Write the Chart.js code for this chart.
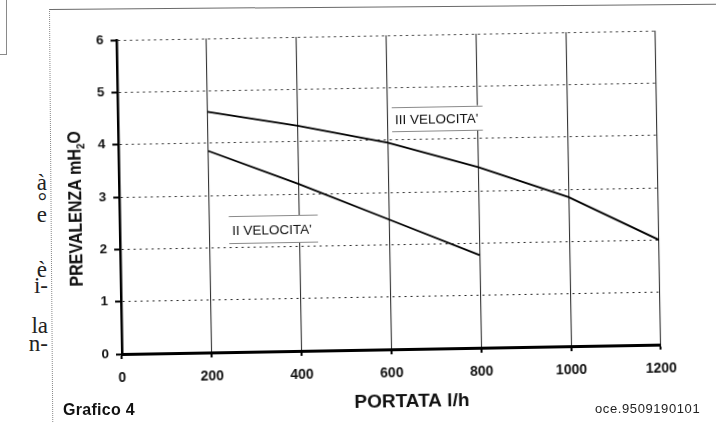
<!DOCTYPE html>
<html>
<head>
<meta charset="utf-8">
<script src="https://cdn.jsdelivr.net/npm/chart.js@4.4.1/dist/chart.umd.min.js"></script>
<style>
html,body{margin:0;padding:0;background:#fff;}
#wrap{position:relative;width:716px;height:422px;overflow:hidden;background:#fff;}
#c{position:absolute;left:0;top:0;width:716px;height:422px;transform-origin:122px 354px;transform:rotate(-1deg);}
.frag{position:absolute;font-family:"Liberation Serif","Times New Roman",serif;font-size:23px;line-height:1;color:#222;white-space:nowrap;}
#corner{position:absolute;left:-1px;top:-1px;width:6px;height:54px;border:1px solid #8a8a8a;}
#frame{position:absolute;left:49px;top:9px;width:720px;height:470px;border-top:1.5px solid #6a6a6a;border-left:1px dotted #8a8a8a;transform-origin:0 0;transform:rotate(-0.45deg);}
#grafico{position:absolute;left:63px;top:402px;font-family:"Liberation Sans",Arial,sans-serif;font-weight:bold;font-size:16px;line-height:1;color:#111;letter-spacing:0.3px;white-space:nowrap;}
#code{position:absolute;left:595px;top:402px;font-family:"Liberation Sans",Arial,sans-serif;font-size:13px;line-height:1;color:#222;letter-spacing:0.6px;white-space:nowrap;}
</style>
</head>
<body>
<div id="wrap">
  <div id="corner"></div>
  <div id="frame"></div>
  <div class="frag" style="right:669px;top:171px;">à</div>
  <div class="frag" style="right:669px;top:190px;">°</div>
  <div class="frag" style="right:669px;top:203px;">e</div>
  <div class="frag" style="right:669px;top:258px;">è</div>
  <div class="frag" style="right:668px;top:274px;">i-</div>
  <div class="frag" style="right:668px;top:314px;">la</div>
  <div class="frag" style="right:668px;top:332px;">n-</div>
  <canvas id="c" width="716" height="422"></canvas>
  <div id="grafico">Grafico 4</div>
  <div id="code">oce.9509190101</div>
</div>
<script>
// ---- data ----
const flowTicks = [0, 200, 400, 600, 800, 1000, 1200];   // PORTATA l/h
const headTicks = [0, 1, 2, 3, 4, 5, 6];                  // PREVALENZA mH2O
const portataIII = [200, 400, 600, 800, 1000, 1200];
const velocitaIII = [4.60, 4.30, 3.95, 3.45, 2.85, 2.00];
const portataII = [200, 400, 600, 800];
const velocitaII = [3.85, 3.19, 2.48, 1.77];
const seriesNames = ["III VELOCITA'", "II VELOCITA'"];
const xTitle = "PORTATA l/h";
const yTitleParts = ["PREVALENZA mH", "2", "O"];

const SANS = '"Liberation Sans", Arial, sans-serif';

const annot = {
  id: 'annot',
  afterDatasetsDraw(chart) {
    const {ctx, scales: {x, y}} = chart;
    const boxes = [
      {text: seriesNames[0], x0: 610, x1: 812, y0: 4.155, y1: 4.633},
      {text: seriesNames[1], x0: 243, x1: 441, y0: 2.07, y1: 2.59}
    ];
    ctx.save();
    boxes.forEach(b => {
      const l = x.getPixelForValue(b.x0), r = x.getPixelForValue(b.x1);
      const t = y.getPixelForValue(b.y1), bt = y.getPixelForValue(b.y0);
      ctx.fillStyle = '#fff';
      ctx.fillRect(l, t, r - l, bt - t);
      ctx.strokeStyle = '#8a8a8a';
      ctx.lineWidth = 1;
      ctx.beginPath();
      ctx.moveTo(l, Math.round(t) + 0.5); ctx.lineTo(r, Math.round(t) + 0.5);
      ctx.moveTo(l, Math.round(bt) - 0.5); ctx.lineTo(r, Math.round(bt) - 0.5);
      ctx.stroke();
      ctx.fillStyle = '#111';
      ctx.font = '13.5px ' + SANS;
      ctx.textAlign = 'left';
      ctx.textBaseline = 'alphabetic';
      ctx.fillText(b.text, l + 3, (t + bt) / 2 + 5);
    });
    ctx.restore();

    // x axis title
    ctx.save();
    ctx.fillStyle = '#111';
    ctx.font = 'bold 19px ' + SANS;
    ctx.textAlign = 'center';
    ctx.textBaseline = 'alphabetic';
    ctx.fillText(xTitle, 411, 412);
    ctx.restore();

    // y axis title with subscript
    ctx.save();
    ctx.translate(77.5, 208);
    ctx.rotate(-Math.PI / 2);
    ctx.scale(1, 1.12);
    ctx.fillStyle = '#111';
    ctx.textAlign = 'left';
    ctx.textBaseline = 'alphabetic';
    const big = 'bold 16px ' + SANS, small = 'bold 10px ' + SANS;
    ctx.font = big; const w0 = ctx.measureText(yTitleParts[0]).width;
    ctx.font = small; const w1 = ctx.measureText(yTitleParts[1]).width;
    ctx.font = big; const w2 = ctx.measureText(yTitleParts[2]).width;
    let sx = -(w0 + w1 + w2) / 2;
    ctx.font = big; ctx.fillText(yTitleParts[0], sx, 5.7); sx += w0;
    ctx.font = small; ctx.fillText(yTitleParts[1], sx, 9); sx += w1;
    ctx.font = big; ctx.fillText(yTitleParts[2], sx, 5.7);
    ctx.restore();
  }
};

new Chart(document.getElementById('c').getContext('2d'), {
  type: 'line',
  data: {
    datasets: [
      {
        label: seriesNames[0],
        data: portataIII.map((v, i) => ({x: v, y: velocitaIII[i]})),
        borderColor: '#000', borderWidth: 1.8, pointRadius: 0, tension: 0, fill: false
      },
      {
        label: seriesNames[1],
        data: portataII.map((v, i) => ({x: v, y: velocitaII[i]})),
        borderColor: '#000', borderWidth: 1.8, pointRadius: 0, tension: 0, fill: false
      }
    ]
  },
  options: {
    responsive: false,
    animation: false,
    devicePixelRatio: 1,
    layout: {padding: {left: 0, top: 40, right: 55, bottom: 0}},
    plugins: {legend: {display: false}, tooltip: {enabled: false}},
    scales: {
      x: {
        type: 'linear', min: flowTicks[0], max: flowTicks[flowTicks.length - 1],
        afterBuildTicks: s => { s.ticks = flowTicks.map(v => ({value: v})); },
        afterFit: s => { s.height = 68; },
        grid: {color: '#333', lineWidth: 1.1, tickLength: 5, tickColor: '#000', tickWidth: 2},
        border: {display: true, color: '#000', width: 3},
        ticks: {font: {family: SANS, size: 14, weight: 'bold'}, color: '#111', padding: 11, maxRotation: 0,
                callback: v => String(v)}
      },
      y: {
        type: 'linear', min: headTicks[0], max: headTicks[headTicks.length - 1],
        afterBuildTicks: s => { s.ticks = headTicks.map(v => ({value: v})); },
        afterFit: s => { s.width = 122; },
        grid: {color: '#222', lineWidth: 1, tickLength: 6, tickColor: '#000', tickWidth: 2, tickBorderDash: []},
        border: {display: true, color: '#000', width: 2.5, dash: [2, 4]},
        ticks: {font: {family: SANS, size: 13.5, weight: 'bold'}, color: '#111', padding: 7,
                callback: v => String(v)}
      }
    }
  },
  plugins: [annot]
});
</script>
</body>
</html>
